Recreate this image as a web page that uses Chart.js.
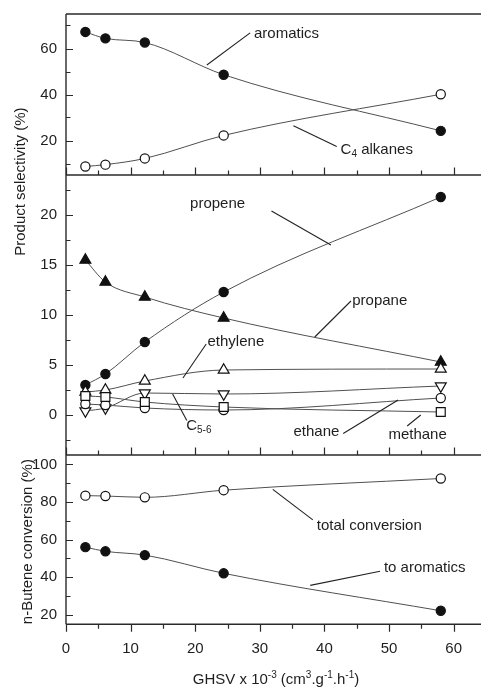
<!DOCTYPE html>
<html>
<head>
<meta charset="utf-8">
<title>n-Butene aromatization vs GHSV</title>
<script src="https://cdn.jsdelivr.net/npm/chart.js@4.4.1/dist/chart.umd.min.js"></script>
<style>
  html, body { margin: 0; padding: 0; background: #fff; overflow: hidden; }
  #wrap { position: relative; width: 481px; height: 689px; overflow: hidden; }
  #wrap canvas { position: absolute; left: 0; top: 0; }
</style>
</head>
<body>
<div id="wrap"><canvas id="chart" width="500" height="689"></canvas></div>
<script>
// Space velocity, GHSV x 10^-3 (cm3 g-1 h-1)
const ghsv = [3.0, 6.1, 12.2, 24.4, 58.0];

// Product selectivity (%), upper range
const aromatics = [67.2, 64.4, 62.6, 48.6, 24.2];
const c4Alkanes = [8.7, 9.5, 12.2, 22.2, 40.1];

// Product selectivity (%), lower range
const propene  = [3.0, 4.1, 7.3, 12.3, 21.8];
const propane  = [15.5, 13.3, 11.8, 9.7, 5.3];
const ethylene = [2.3, 2.5, 3.4, 4.5, 4.6];
const c56      = [0.4, 0.7, 2.2, 2.1, 2.9];
const ethane   = [1.1, 1.0, 0.7, 0.5, 1.7];
const methane  = [1.9, 1.8, 1.3, 0.8, 0.3];

// n-Butene conversion (%)
const totalConversion = [83.4, 83.2, 82.5, 86.3, 92.5];
const toAromatics     = [56.0, 53.8, 51.8, 42.1, 22.2];

// Tick positions (all tick marks) and the labelled subset
const xTicks   = [0, 5, 10, 15, 20, 25, 30, 35, 40, 45, 50, 55, 60, 65];
const topTicks = [10, 20, 30, 40, 50, 60, 70];
const midTicks = [-2.5, 0, 2.5, 5, 7.5, 10, 12.5, 15, 17.5, 20, 22.5];
const botTicks = [20, 30, 40, 50, 60, 70, 80, 90, 100];

const xTickLabels   = [0, 10, 20, 30, 40, 50, 60];
const topTickLabels = [20, 40, 60];
const midTickLabels = [0, 5, 10, 15, 20];
const botTickLabels = [20, 40, 60, 80, 100];

const FONT = '"Liberation Sans", Arial, Helvetica, sans-serif';
const INK = '#1e1e1e';
Chart.defaults.font.family = FONT;
Chart.defaults.font.size = 15;
Chart.defaults.color = INK;

function series(label, ys, axis, style, filled, rotation) {
  return {
    label,
    data: ghsv.map((x, i) => ({ x, y: ys[i] })),
    yAxisID: axis,
    borderColor: '#505050',
    borderWidth: 1,
    pointStyle: style,
    pointRotation: rotation || 0,
    pointRadius: style === 'circle' ? 4.6 : 6.3,
    pointBorderColor: '#111',
    pointBorderWidth: 1.2,
    pointBackgroundColor: filled ? '#111' : '#fff',
    cubicInterpolationMode: 'monotone',
    fill: false
  };
}

// Text placed beside the curves, with a leader line to the curve it names.
// Coordinates are in data units of the given panel axis.
const callouts = [
  { axis: 'yTop', parts: [['aromatics', 0]], at: [29.1, 66.5], from: [28.5, 66.8], to: [21.8, 52.8] },
  { axis: 'yTop', parts: [['C', 0], ['4', -1], [' alkanes', 0]], at: [42.5, 16.0], from: [41.9, 17.4], to: [35.2, 26.4] },
  { axis: 'yMid', parts: [['propene', 0]], at: [19.2, 21.1], from: [31.8, 20.4], to: [41.0, 17.0] },
  { axis: 'yMid', parts: [['propane', 0]], at: [44.3, 11.4], from: [44.1, 11.4], to: [38.5, 7.8] },
  { axis: 'yMid', parts: [['ethylene', 0]], at: [21.9, 7.35], from: [21.7, 7.1], to: [18.1, 3.7] },
  { axis: 'yMid', parts: [['C', 0], ['5-6', -1]], at: [18.6, -1.1], from: [18.7, -0.55], to: [16.5, 2.1] },
  { axis: 'yMid', parts: [['ethane', 0]], at: [35.2, -1.7], from: [42.9, -1.85], to: [51.4, 1.5] },
  { axis: 'yMid', parts: [['methane', 0]], at: [49.9, -2.0], from: [52.8, -1.1], to: [54.9, 0.0] },
  { axis: 'yBot', parts: [['total conversion', 0]], at: [38.8, 67.5], from: [38.2, 70.5], to: [32.0, 86.7] },
  { axis: 'yBot', parts: [['to aromatics', 0]], at: [49.2, 45.0], from: [48.6, 43.2], to: [37.8, 35.7] }
];

function drawRich(ctx, parts, x, y, align) {
  const big = 15, small = 10;
  let total = 0;
  for (const [t, mode] of parts) {
    ctx.font = (mode ? small : big) + 'px ' + FONT;
    total += ctx.measureText(t).width;
  }
  let cx = align === 'center' ? x - total / 2 : x;
  ctx.textAlign = 'left';
  ctx.textBaseline = 'middle';
  for (const [t, mode] of parts) {
    ctx.font = (mode ? small : big) + 'px ' + FONT;
    const dy = mode === 1 ? -5.5 : (mode === -1 ? 4.5 : 0);
    ctx.fillText(t, cx, y + dy);
    cx += ctx.measureText(t).width;
  }
}

const panelFrame = {
  id: 'panelFrame',
  beforeDatasetsDraw(chart) {
    const { ctx, chartArea: ca, scales } = chart;
    const xs = scales.x;
    const panels = [
      { s: scales.yTop, labels: topTickLabels },
      { s: scales.yMid, labels: midTickLabels },
      { s: scales.yBot, labels: botTickLabels }
    ];
    ctx.save();
    ctx.strokeStyle = '#2a2a2a';
    ctx.lineWidth = 1.4;
    ctx.lineCap = 'butt';
    // panel outlines
    ctx.beginPath();
    ctx.moveTo(ca.left, ca.top);
    ctx.lineTo(ca.left, ca.bottom);
    for (const p of panels) {
      ctx.moveTo(ca.left, p.s.top);
      ctx.lineTo(ca.right, p.s.top);
    }
    ctx.moveTo(ca.left, ca.bottom);
    ctx.lineTo(ca.right, ca.bottom);
    ctx.stroke();

    // y ticks, pointing into each panel
    ctx.lineWidth = 1.2;
    ctx.beginPath();
    for (const p of panels) {
      for (const t of p.s.ticks) {
        const y = Math.round(p.s.getPixelForValue(t.value)) + 0.5;
        const len = p.labels.includes(t.value) ? 7 : 4.5;
        ctx.moveTo(ca.left, y);
        ctx.lineTo(ca.left + len, y);
      }
    }
    // x ticks: upward at the two panel separators, downward at the base
    for (const t of xs.ticks) {
      const x = Math.round(xs.getPixelForValue(t.value)) + 0.5;
      const len = xTickLabels.includes(t.value) ? 7.5 : 4.5;
      for (const sy of [scales.yTop.bottom, scales.yMid.bottom]) {
        ctx.moveTo(x, sy);
        ctx.lineTo(x, sy - len);
      }
      ctx.moveTo(x, ca.bottom);
      ctx.lineTo(x, ca.bottom + len);
    }
    ctx.stroke();
    ctx.restore();
  },
  afterDatasetsDraw(chart) {
    const { ctx, chartArea: ca, scales } = chart;
    const xs = scales.x;
    ctx.save();
    ctx.fillStyle = INK;
    ctx.strokeStyle = '#222';
    ctx.lineWidth = 1.1;
    for (const c of callouts) {
      const ys = scales[c.axis];
      ctx.beginPath();
      ctx.moveTo(xs.getPixelForValue(c.from[0]), ys.getPixelForValue(c.from[1]));
      ctx.lineTo(xs.getPixelForValue(c.to[0]), ys.getPixelForValue(c.to[1]));
      ctx.stroke();
      drawRich(ctx, c.parts, xs.getPixelForValue(c.at[0]), ys.getPixelForValue(c.at[1]), 'left');
    }

    // axis titles
    drawRich(ctx, [['GHSV x 10', 0], ['-3', 1], [' (cm', 0], ['3', 1], ['.g', 0], ['-1', 1], ['.h', 0], ['-1', 1], [')', 0]],
      (ca.left + ca.right) / 2, ca.bottom + 56, 'center');

    const selTop = scales.yTop.top, selBottom = scales.yMid.bottom;
    ctx.save();
    ctx.translate(ca.left - 45, selTop + (selBottom - selTop) * 0.38);
    ctx.rotate(-Math.PI / 2);
    drawRich(ctx, [['Product selectivity (%)', 0]], 0, 0, 'center');
    ctx.restore();

    ctx.save();
    ctx.translate(ca.left - 38.5, (scales.yBot.top + scales.yBot.bottom) / 2 + 2);
    ctx.rotate(-Math.PI / 2);
    drawRich(ctx, [['n-Butene conversion (%)', 0]], 0, 0, 'center');
    ctx.restore();
    ctx.restore();
  }
};

function yAxis(min, max, ticks, labels, stackWeight, weight) {
  return {
    type: 'linear',
    position: 'left',
    stack: 'panels',
    stackWeight,
    weight,
    min, max,
    grid: { display: false, drawTicks: false },
    border: { display: false },
    afterBuildTicks: s => { s.ticks = ticks.map(value => ({ value })); },
    ticks: {
      autoSkip: false,
      padding: 9,
      callback: v => labels.includes(v) ? String(v) : ''
    },
    afterFit: s => { s.width = 66; s.paddingTop = 0; s.paddingBottom = 0; }
  };
}

new Chart(document.getElementById('chart'), {
  type: 'line',
  data: {
    datasets: [
      series('aromatics', aromatics, 'yTop', 'circle', true),
      series('C4 alkanes', c4Alkanes, 'yTop', 'circle', false),
      series('methane', methane, 'yMid', 'rect', false),
      series('ethane', ethane, 'yMid', 'circle', false),
      series('C5-6', c56, 'yMid', 'triangle', false, 180),
      series('ethylene', ethylene, 'yMid', 'triangle', false),
      series('propane', propane, 'yMid', 'triangle', true),
      series('propene', propene, 'yMid', 'circle', true),
      series('total conversion', totalConversion, 'yBot', 'circle', false),
      series('to aromatics', toAromatics, 'yBot', 'circle', true)
    ]
  },
  options: {
    responsive: false,
    animation: false,
    events: [],
    layout: { padding: { top: 14, right: 14, bottom: 0, left: 0 } },
    plugins: { legend: { display: false }, tooltip: { enabled: false }, title: { display: false } },
    scales: {
      x: {
        type: 'linear',
        min: 0, max: 65,
        grid: { display: false, drawTicks: false },
        border: { display: false },
        afterBuildTicks: s => { s.ticks = xTicks.map(value => ({ value })); },
        ticks: {
          autoSkip: false,
          maxRotation: 0,
          padding: 16,
          callback: v => xTickLabels.includes(v) ? String(v) : ''
        },
        afterFit: s => { s.height = 64.7; s.paddingLeft = 0; s.paddingRight = 0; }
      },
      yBot: yAxis(15, 105, botTicks, botTickLabels, 169.3, 1),
      yMid: yAxis(-4, 24, midTicks, midTickLabels, 280, 2),
      yTop: yAxis(5, 75, topTicks, topTickLabels, 161, 3)
    }
  },
  plugins: [panelFrame]
});
</script>
</body>
</html>
